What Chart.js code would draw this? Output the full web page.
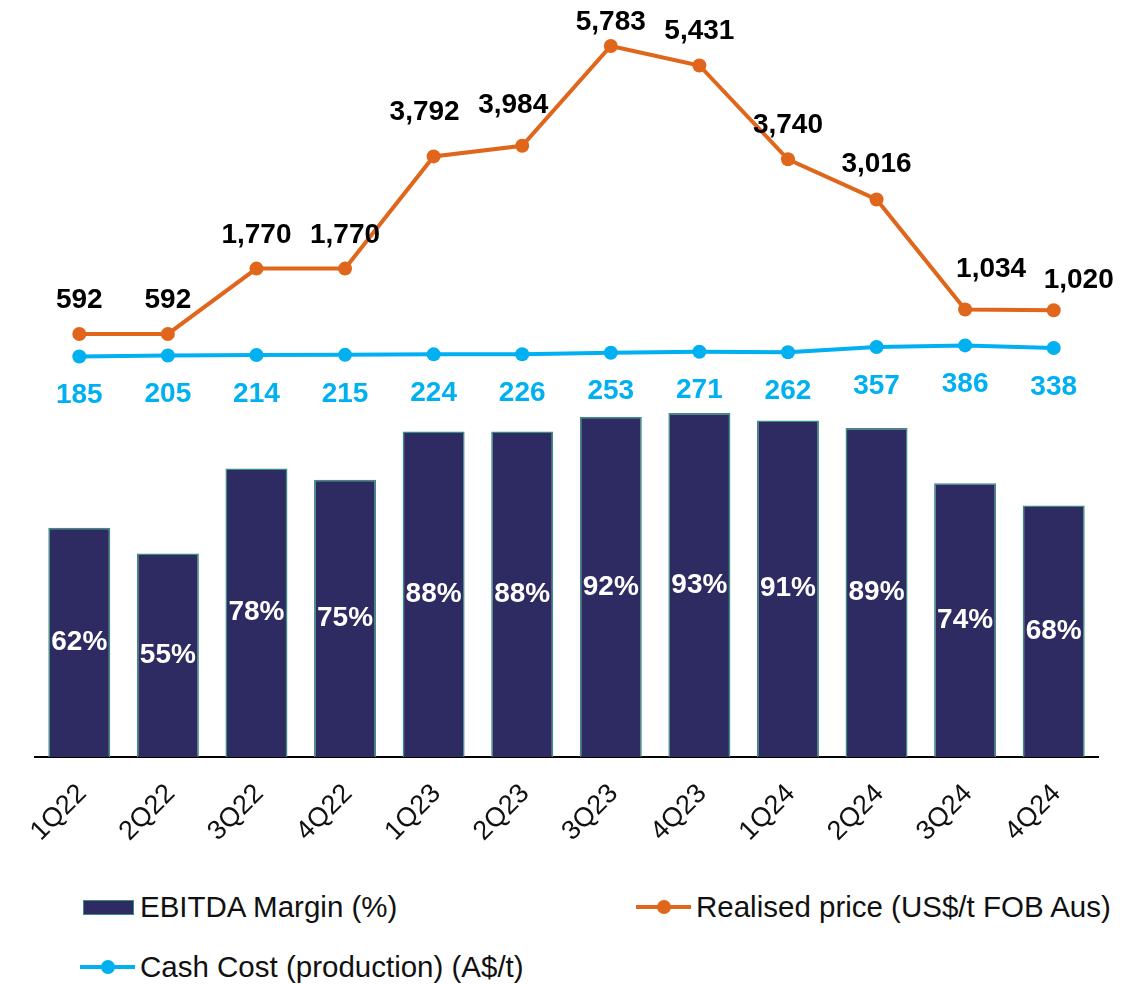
<!DOCTYPE html>
<html>
<head>
<meta charset="utf-8">
<script src="https://cdn.jsdelivr.net/npm/chart.js@4.4.1/dist/chart.umd.min.js"></script>
<style>
  html,body{margin:0;padding:0;background:#fff;}
  body{width:1140px;height:984px;position:relative;overflow:hidden;font-family:"Liberation Sans",Arial,sans-serif;}
  #wrap{position:absolute;left:0;top:0;width:1140px;height:870px;}
  .leg{position:absolute;display:flex;align-items:center;font-size:29.5px;color:#111;white-space:nowrap;}
  .leg .box{width:51px;height:15px;background:#2d2b62;border:1.5px solid #3a8f80;box-sizing:border-box;margin-right:6px;}
  .leg .ln{position:relative;width:55px;height:4px;margin-right:5px;}
  .leg .ln i{position:absolute;left:21px;top:-5px;width:14px;height:14px;border-radius:50%;}
</style>
</head>
<body>
<div id="wrap"><canvas id="chart" width="1140" height="870"></canvas></div>
<div class="leg" style="left:83px;top:890px;"><span class="box"></span>EBITDA Margin (%)</div>
<div class="leg" style="left:636px;top:890px;"><span class="ln" style="background:#e0661c"><i style="background:#e0661c"></i></span>Realised price (US$/t FOB Aus)</div>
<div class="leg" style="left:80px;top:950px;"><span class="ln" style="background:#00b0f0"><i style="background:#00b0f0"></i></span>Cash Cost (production) (A$/t)</div>
<script>
const quarters = ['1Q22','2Q22','3Q22','4Q22','1Q23','2Q23','3Q23','4Q23','1Q24','2Q24','3Q24','4Q24'];
const ebitdaMargin = [62, 55, 78, 75, 88, 88, 92, 93, 91, 89, 74, 68];
const realisedPrice = [592, 592, 1770, 1770, 3792, 3984, 5783, 5431, 3740, 3016, 1034, 1020];
const cashCost = [185, 205, 214, 215, 224, 226, 253, 271, 262, 357, 386, 338];

// label nudges (px) for the price labels, to sit like the original
const priceDx = [0, 0, 0, 0, -9, -9, 0, 0, 0, 0, 26, 25];
const priceDy = [34, 34, 33, 33, 44, 40, 24, 34, 34, 35, 40, 30];

const ORANGE = '#e0661c', BLUE = '#00b0f0', NAVY = '#2d2b62', TEAL = '#3a8f80';
const fmt = v => v.toLocaleString('en-US');

const labelPlugin = {
  id: 'valueLabels',
  afterDatasetsDraw(chart) {
    const ctx = chart.ctx;
    ctx.save();
    ctx.textAlign = 'center';
    ctx.textBaseline = 'middle';
    ctx.font = 'bold 28px "Liberation Sans", Arial, sans-serif';
    chart.getDatasetMeta(0).data.forEach((bar, i) => {
      ctx.fillStyle = '#fff';
      ctx.fillText(ebitdaMargin[i] + '%', bar.x, (bar.y + bar.base) / 2);
    });
    chart.getDatasetMeta(1).data.forEach((pt, i) => {
      ctx.fillStyle = '#000';
      ctx.fillText(fmt(realisedPrice[i]), pt.x + priceDx[i], pt.y - priceDy[i]);
    });
    chart.getDatasetMeta(2).data.forEach((pt, i) => {
      ctx.fillStyle = BLUE;
      ctx.fillText(fmt(cashCost[i]), pt.x, pt.y + 39);
    });
    ctx.restore();
  }
};

new Chart(document.getElementById('chart'), {
  data: {
    labels: quarters,
    datasets: [
      {type:'bar', label:'EBITDA Margin (%)', data: ebitdaMargin, yAxisID:'yBar',
       backgroundColor: NAVY, borderColor: TEAL, borderWidth: 1.5,
       categoryPercentage: 1, barPercentage: 0.7, order: 3},
      {type:'line', label:'Realised price (US$/t FOB Aus)', data: realisedPrice, yAxisID:'yLine',
       borderColor: ORANGE, backgroundColor: ORANGE, borderWidth: 4,
       pointRadius: 7, pointBackgroundColor: ORANGE, pointBorderWidth: 0, tension: 0, order: 1},
      {type:'line', label:'Cash Cost (production) (A$/t)', data: cashCost, yAxisID:'yLine',
       borderColor: BLUE, backgroundColor: BLUE, borderWidth: 4,
       pointRadius: 7, pointBackgroundColor: BLUE, pointBorderWidth: 0, tension: 0, order: 2}
    ]
  },
  options: {
    responsive: false,
    animation: false,
    layout: {padding: {top: 10, left: 35, right: 42, bottom: 0}},
    plugins: {legend: {display: false}, tooltip: {enabled: false}},
    scales: {
      x: {
        grid: {display: false, drawTicks: false},
        border: {display: true, color: '#000', width: 2},
        ticks: {color: '#111', font: {size: 27, family: '"Liberation Sans", Arial, sans-serif'},
                minRotation: 45, maxRotation: 45, padding: 21, labelOffset: 3},
        afterFit(s) { s.height = 113; }
      },
      yBar: {display: false, min: 0, max: 202},
      yLine: {display: false, min: -7033, max: 6431}
    }
  },
  plugins: [labelPlugin]
});
</script>
</body>
</html>
